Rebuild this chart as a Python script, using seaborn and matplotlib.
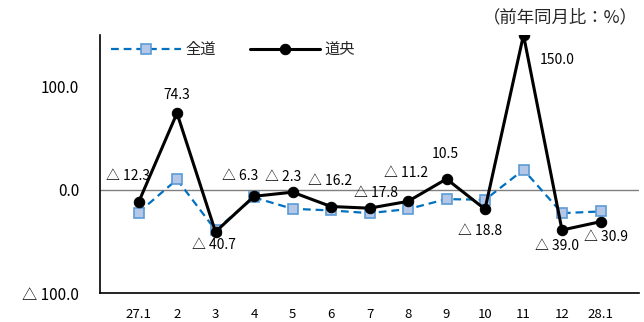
import matplotlib
matplotlib.use("Agg")
import matplotlib.pyplot as plt
from matplotlib.ticker import FuncFormatter, FixedLocator
import pandas as pd
import seaborn as sns

# Month labels (fiscal Heisei 27.1 through 28.1)
months = ["27.1", "2", "3", "4", "5", "6", "7", "8", "9", "10", "11", "12", "28.1"]
# Year-on-year change (%)
zendo = [-22.0, 10.0, -39.0, -7.4, -18.4, -20.0, -22.6, -18.7, -9.0, -9.7, 19.4, -22.6, -21.0]
doou = [-12.3, 74.3, -40.7, -6.3, -2.3, -16.2, -17.8, -11.2, 10.5, -18.8, 150.0, -39.0, -30.9]

series_names = ["全道", "道央"]
unit_note = "（前年同月比：%）"

# Label offsets (pixels) for the 道央 value labels
label_offsets = [(-11, 26), (0, 18), (-2, -13), (-14, 20), (-9, 15), (-1, 26), (6, 15),
                 (-2, 28), (-1, 25), (-5, -22), (34, -25), (-5, -16), (5, -15)]

sns.set_theme(style="white")
plt.rcParams["font.family"] = ["Noto Sans CJK JP", "DejaVu Sans"]


def fmt_value(v):
    return f"△ {abs(v):.1f}" if v < 0 else f"{v:.1f}"


pos = list(range(len(months)))
df = pd.DataFrame({"pos": pos * 2,
                   "value": zendo + doou,
                   "series": [series_names[0]] * len(months) + [series_names[1]] * len(months)})

fig = plt.figure(figsize=(6.44, 3.22), dpi=100)
ax = fig.add_axes([100 / 644, 29 / 322, 539 / 644, 258 / 322])

ax.axhline(0, color="#808080", lw=1.0, zorder=1)

sns.lineplot(data=df[df.series == series_names[0]], x="pos", y="value", ax=ax,
             color="#0070C0", lw=1.6, linestyle=(0, (3.5, 2.2)),
             marker="s", markersize=6.5, markerfacecolor="#B4C7E7",
             markeredgecolor="#5B9BD5", markeredgewidth=1.2,
             label=series_names[0], zorder=3)
sns.lineplot(data=df[df.series == series_names[1]], x="pos", y="value", ax=ax,
             color="black", lw=2.2, marker="o", markersize=7.5,
             markerfacecolor="black", markeredgecolor="black",
             label=series_names[1], zorder=4)

for x, v, (dx, dy) in zip(pos, doou, label_offsets):
    ax.annotate(fmt_value(v), (x, v), xytext=(dx, dy), textcoords="offset pixels",
                ha="center", va="center", fontsize=10, color="black", zorder=5)

ax.set_ylim(-100, 150)
ax.set_xlim(-1, len(months))
ax.yaxis.set_major_locator(FixedLocator([-100, 0, 100]))
ax.yaxis.set_major_formatter(FuncFormatter(lambda v, p: fmt_value(v)))
ax.tick_params(axis="y", length=0, pad=15, labelsize=11, colors="black")

ax.set_xticks(pos + [len(months)])
ax.set_xticklabels(months + [""])
ax.tick_params(axis="x", direction="in", length=4, width=1, pad=11, labelsize=9.5,
               colors="black")

ax.set_xlabel("")
ax.set_ylabel("")
for side in ("top", "right"):
    ax.spines[side].set_visible(False)
for side in ("left", "bottom"):
    ax.spines[side].set_color("black")
    ax.spines[side].set_linewidth(1.2)

leg = ax.legend(loc="upper left", bbox_to_anchor=(-0.005, 1.03), ncol=2, frameon=False,
                handlelength=4.6, handletextpad=0.3, columnspacing=2.2, fontsize=11)

fig.text(638 / 644, 1 - 17 / 322, unit_note, ha="right", va="center", fontsize=12.5)

fig.savefig("out.png", dpi=100)
